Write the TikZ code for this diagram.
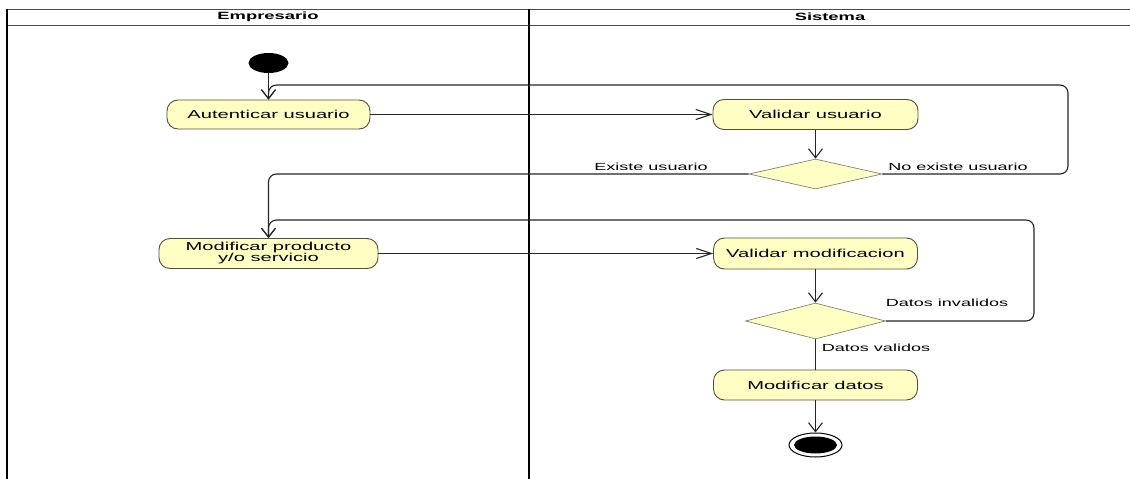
\documentclass[tikz,border=0pt]{standalone}
\usepackage{fontspec}
\setmainfont{Liberation Sans}[FakeStretch=1.75]
\usetikzlibrary{arrows.meta,shapes.geometric}
\definecolor{actfill}{RGB}{255,255,196}
\definecolor{actdraw}{RGB}{80,80,60}
\begin{document}
\begin{tikzpicture}[x=1pt,y=-1pt,
  act/.style={draw=actdraw,fill=actfill,rounded corners=11pt,line width=0.9pt,inner sep=0pt,align=center,font=\fontsize{11.5}{11}\selectfont},
  dec/.style={diamond,draw=actdraw!70,fill=actfill,inner sep=0pt,line width=0.7pt},
  flow/.style={line width=1.1pt,draw=black!85},
  vtip/.style={-{Straight Barb[length=9pt,width=14pt]}},
  htip/.style={-{Straight Barb[length=15pt,width=10pt]}},
  lbl/.style={font=\fontsize{10.3}{11}\selectfont,inner sep=0pt},
  lane/.style={line width=1.6pt,draw=black},
  hline/.style={line width=0.8pt,draw=black!70},
  hdr/.style={font=\fontsize{10.5}{11}\selectfont\bfseries,inner sep=0pt},
]
\fill[white] (0,0) rectangle (1130,479);
\useasboundingbox (0,0) rectangle (1130,479);
% swimlanes
\draw[hline] (7,9) -- (1130,9);
\draw[hline] (7,25) -- (1130,25);
\draw[lane] (7,9) -- (7,479);
\draw[lane] (529,9) -- (529,479);
\node[hdr] (h1) at (268,17) {Empresario};
\node[hdr] (h2) at (830,17) {Sistema};
% nodes
\node[ellipse,fill=black,minimum width=40pt,minimum height=20pt,inner sep=0pt] (start) at (268.5,63) {};
\node[act,minimum width=203pt,minimum height=29pt] (auth) at (268.5,114.5) {Autenticar usuario};
\node[act,minimum width=205pt,minimum height=30pt] (valu) at (815.5,114.5) {Validar usuario};
\node[dec,minimum width=133pt,minimum height=30pt] (d1) at (815.5,174) {};
\node[act,minimum width=219pt,minimum height=30pt] (mod) at (268.5,253.5) {Modificar producto\\y/o servicio};
\node[act,minimum width=204pt,minimum height=31pt] (valm) at (815.5,253.5) {Validar modificacion};
\node[dec,minimum width=140pt,minimum height=36pt] (d2) at (815.5,321) {};
\node[act,minimum width=204pt,minimum height=30pt] (modd) at (815.5,385) {Modificar datos};
\node[ellipse,draw=black,line width=1pt,fill=white,minimum width=53pt,minimum height=24pt,inner sep=0pt] (end) at (815.5,445) {};
\node[ellipse,fill=black,minimum width=43pt,minimum height=17pt,inner sep=0pt] (endin) at (end) {};
% connectors
\coordinate (r1) at (1068,85);
\coordinate (r2) at (1034,220);
\draw[flow,vtip] (start.south) -- (auth.north);
\draw[flow,vtip,rounded corners=8pt] (d1.east) -| (r1) -| (auth.north);
\draw[flow,htip] (auth.east) -- (valu.west);
\draw[flow,vtip] (valu.south) -- (d1.north);
\draw[flow,vtip,rounded corners=8pt] (d1.west) -| (mod.north);
\draw[flow,htip] (mod.east) -- (valm.west);
\draw[flow,vtip] (valm.south) -- (d2.north);
\draw[flow,vtip,rounded corners=8pt] (d2.east) -| (r2) -| (mod.north);
\draw[flow] (d2.south) -- (modd.north);
\draw[flow,vtip] (modd.south) -- (end.north);
% labels
\node[lbl] (l1) at (651,167) {Existe usuario};
\node[lbl] (l2) at (958,167) {No existe usuario};
\node[lbl] (l3) at (947,303) {Datos invalidos};
\node[lbl] (l4) at (876,348) {Datos validos};
\end{tikzpicture}
\end{document}
